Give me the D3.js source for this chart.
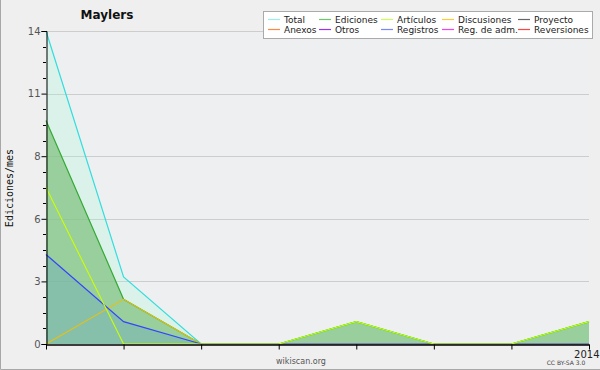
<!DOCTYPE html>
<html><head><meta charset="utf-8">
<script src="https://cdn.jsdelivr.net/npm/d3@7"></script>
<style>html,body{margin:0;padding:0;background:#efefef;}svg{display:block;}</style>
</head><body>
<svg id="c" width="600" height="370"></svg>
<script>
const months = [0,1,2,3,4,5,6,7];
const xTickLabels = ["","","","","","","","2014"];
const total = [14,3,0,0,1,0,0,1];
const ediciones = [10,2,0,0,1,0,0,1];
const articulos = [7,0,0,0,1,0,0,1];
const discusiones = [0,2,0,0,0,0,0,0];
const registros = [4,1,0,0,0,0,0,0];
const yTickValues = [0,2.8,5.6,8.4,11.2,14];
const yTickLabels = ["0","3","6","8","11","14"];
const legendNames = ["Total","Ediciones","Artículos","Discusiones","Proyecto","Anexos","Otros","Registros","Reg. de adm.","Reversiones"];
const legendColors = ["#99eeee","#66cc66","#ccff55","#ffcc33","#666666","#ff8844","#9933ee","#7788ff","#ee44ee","#ff4444"];

const svg = d3.select("#c");
svg.append("rect").attr("x",0).attr("y",0).attr("width",600).attr("height",370).attr("fill","#efefef");
svg.append("rect").attr("x",46).attr("y",31).attr("width",543).attr("height",313).attr("fill","#eeeff1");
svg.append("path").attr("d","M0.5,0V369.5H600").attr("fill","none").attr("stroke","#a8a8a8");

const x = d3.scaleLinear().domain([0,7]).range([46,589]);
const y = d3.scaleLinear().domain([0,14]).range([344,31]);

// grid
svg.append("g").selectAll("line").data(yTickValues.slice(1)).join("line")
  .attr("x1",46).attr("x2",589).attr("y1",d=>Math.round(y(d))+0.5).attr("y2",d=>Math.round(y(d))+0.5)
  .attr("stroke","#cdcdcd").attr("stroke-width",1);

const area = arr => d3.area().x((d,i)=>x(i)).y0(y(0)).y1(d=>y(d))(arr);
const line = arr => d3.line().x((d,i)=>x(i)).y(d=>y(d))(arr);

svg.append("path").attr("d",area(total)).attr("fill","rgba(143,254,216,0.2)");
svg.append("path").attr("d",area(ediciones)).attr("fill","rgba(130,195,130,0.75)");
svg.append("path").attr("d",area(registros)).attr("fill","rgba(40,110,255,0.15)");

svg.append("path").attr("d",line(total)).attr("fill","none").attr("stroke","#33dddd").attr("stroke-width",1.2);
svg.append("path").attr("d",line(ediciones)).attr("fill","none").attr("stroke","#33aa33").attr("stroke-width",1.2);
svg.append("path").attr("d",line(discusiones)).attr("fill","none").attr("stroke","#e8c010").attr("stroke-width",1.1);
svg.append("path").attr("d",line(registros)).attr("fill","none").attr("stroke","#3344ff").attr("stroke-width",1.2);
svg.append("path").attr("d",line(articulos)).attr("fill","none").attr("stroke","#ccff00").attr("stroke-width",1.1);

// y axis
const yAxis = d3.axisLeft(y).tickValues(yTickValues).tickFormat((d,i)=>yTickLabels[i]).tickSize(5).tickPadding(1);
const gy = svg.append("g").attr("transform","translate(46.5,0)").call(yAxis);
gy.select(".domain").attr("stroke","#000");
gy.selectAll(".tick line").attr("stroke","#000");
gy.selectAll("text").attr("font-family","DejaVu Sans").attr("font-size",10).attr("fill","#555");
const minor = d3.range(0,14.01,0.7).filter(v=>!yTickValues.some(t=>Math.abs(t-v)<1e-6));
svg.append("g").selectAll("line").data(minor).join("line")
  .attr("x1",43).attr("x2",46).attr("y1",d=>Math.round(y(d))+0.5).attr("y2",d=>Math.round(y(d))+0.5).attr("stroke","#000");

// x axis
const xAxis = d3.axisBottom(x).tickValues(months).tickFormat((d,i)=>xTickLabels[i]).tickSize(5).tickSizeOuter(0).tickPadding(1);
const gx = svg.append("g").attr("transform","translate(0,344.5)").call(xAxis);
gx.select(".domain").attr("stroke","#000").attr("stroke-width",1.5);
gx.selectAll(".tick line").attr("stroke","#000");
gx.selectAll("text").attr("font-family","DejaVu Sans").attr("font-size",10).attr("fill","#222")
  .attr("text-anchor","end").attr("x",10);

// title
svg.append("text").attr("x",107).attr("y",19).attr("text-anchor","middle").attr("font-family","DejaVu Sans").attr("font-weight","bold").attr("font-size",12).attr("fill","#111").text("Maylers");

// y label
svg.append("text").attr("transform","translate(13,188) rotate(-90)").attr("text-anchor","middle").attr("font-family","DejaVu Sans Mono").attr("font-size",10).attr("fill","#111").text("Ediciones/mes");

svg.append("text").attr("x",301).attr("y",364).attr("text-anchor","middle").attr("font-family","DejaVu Sans").attr("font-size",8).attr("fill","#555").text("wikiscan.org");
svg.append("text").attr("x",566).attr("y",365).attr("text-anchor","middle").attr("font-family","DejaVu Sans").attr("font-size",6).attr("fill","#444").text("CC BY-SA  3.0");

// legend
svg.append("rect").attr("x",263.5).attr("y",11.5).attr("width",329).attr("height",27).attr("fill","#fff").attr("stroke","#aaa");
const colX = [268,319,381,442,518];
const lg = svg.append("g").selectAll("g").data(legendNames).join("g")
  .attr("transform",(d,i)=>`translate(${colX[i%5]},${i<5?19.5:29.5})`);
lg.append("line").attr("x1",0).attr("x2",12).attr("y1",0).attr("y2",0).attr("stroke",(d,i)=>legendColors[i]).attr("stroke-width",1.2);
lg.append("text").attr("x",16).attr("y",3.5).attr("font-family","DejaVu Sans").attr("font-size",9).attr("fill","#222").text(d=>d);
</script>
</body></html>
